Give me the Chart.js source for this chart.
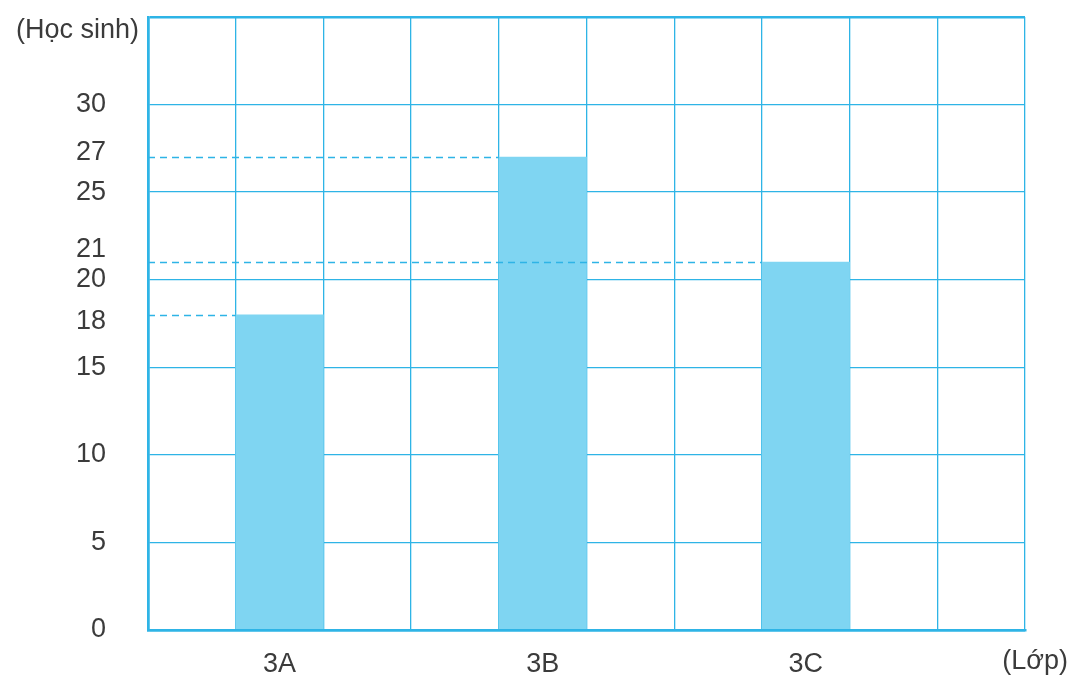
<!DOCTYPE html>
<html>
<head>
<meta charset="utf-8">
<script src="https://cdn.jsdelivr.net/npm/chart.js@4/dist/chart.umd.min.js"></script>
<style>
  html, body { margin: 0; padding: 0; background: #fff; }
  #wrap { width: 1073px; height: 682px; position: relative; }
</style>
</head>
<body>
<div id="wrap"><canvas id="c"></canvas></div>
<script>
// columns on the grid, class names sit in columns 2, 5 and 8
const slots = ['', '3A', '', '', '3B', '', '', '3C', '', '']
const students = [null, 18, null, null, 27, null, null, 21, null, null]
const yTicks = [0, 5, 10, 15, 18, 20, 21, 25, 27, 30, 35]
const gridValues = [0, 5, 10, 15, 20, 25, 30, 35]
const yTitle = '(Học sinh)'
const xTitle = '(Lớp)'

const blue = '#2eb4e6'
const barColor = '#7fd5f2'
const textColor = '#3b3b3b'
const font = { family: '"Liberation Sans", Arial, sans-serif', size: 27 }

// small nudges so crowded labels (21 / 20) don't collide, as in the original
const nudgeUp = { 27: 0.37, 21: 0.96 }
const nudgeDown = { 18: 0.52 }

// dashed guide from the y axis to the top of each bar, plus axis titles
const guides = {
  id: 'guides',
  afterDatasetsDraw(chart) {
    const { ctx, chartArea } = chart
    const y = chart.scales.y
    const meta = chart.getDatasetMeta(0)
    ctx.save()
    ctx.strokeStyle = blue
    ctx.lineWidth = 1.5
    ctx.setLineDash([7, 5])
    students.forEach((v, i) => {
      if (v == null) return
      const bar = meta.data[i]
      const py = Math.round(y.getPixelForValue(v)) + 0.5
      ctx.beginPath()
      ctx.moveTo(chartArea.left, py)
      ctx.lineTo(bar.x - bar.width / 2, py)
      ctx.stroke()
    })
    ctx.restore()

    ctx.save()
    ctx.fillStyle = textColor
    ctx.font = `${font.size}px ${font.family}`
    ctx.textBaseline = 'middle'
    ctx.textAlign = 'right'
    ctx.fillText(yTitle, chartArea.left - 9, chartArea.top + 14)
    ctx.fillText(xTitle, chart.width - 5, chartArea.bottom + 32)
    ctx.restore()
  }
}

new Chart(document.getElementById('c'), {
  type: 'bar',
  data: {
    labels: slots,
    datasets: [{
      data: students,
      backgroundColor: barColor,
      borderWidth: 0,
      barPercentage: 1,
      categoryPercentage: 1
    }]
  },
  options: {
    responsive: true,
    maintainAspectRatio: false,
    animation: false,
    layout: { padding: { top: 17, right: 48, bottom: 0, left: 0 } },
    plugins: { legend: { display: false }, tooltip: { enabled: false } },
    scales: {
      x: {
        offset: true,
        afterFit: (axis) => {
          axis.height = 52
          axis.paddingLeft = 0
          axis.paddingRight = 0
        },
        grid: {
          offset: true,
          drawTicks: false,
          color: blue,
          lineWidth: (c) => (c.index === 0 || c.index === slots.length) ? 2.5 : 1.3
        },
        border: { display: true, color: blue, width: 2.5 },
        ticks: { color: textColor, font, padding: 18, maxRotation: 0, autoSkip: false }
      },
      y: {
        min: 0,
        max: 35,
        afterBuildTicks: (axis) => { axis.ticks = yTicks.map((v) => ({ value: v })) },
        afterFit: (axis) => {
          axis.width = 148
          axis.paddingTop = 0
          axis.paddingBottom = 0
        },
        grid: {
          drawTicks: false,
          color: (c) => gridValues.includes(c.tick.value) ? blue : 'rgba(0,0,0,0)',
          lineWidth: (c) => (c.tick.value === 0 || c.tick.value === 35) ? 2.5 : 1.3
        },
        border: { display: true, color: blue, width: 2.5 },
        ticks: {
          color: textColor,
          padding: 42,
          font: (c) => {
            const v = c.tick && c.tick.value
            const lh = nudgeUp[v] || nudgeDown[v]
            return lh ? { ...font, lineHeight: lh } : font
          },
          callback: (v) => {
            if (v === 35) return ''
            if (nudgeUp[v]) return [String(v), '']
            if (nudgeDown[v]) return ['', String(v)]
            return v
          }
        }
      }
    }
  },
  plugins: [guides]
})
</script>
</body>
</html>
